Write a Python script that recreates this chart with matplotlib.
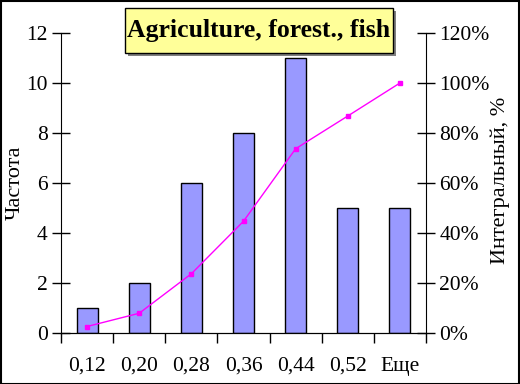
import numpy as np
import matplotlib.pyplot as plt
from matplotlib.patches import Rectangle

# Daten
categories = ["0,12", "0,20", "0,28", "0,36", "0,44", "0,52", "Еще"]
counts = [1, 2, 6, 8, 11, 5, 5]
cum_percent = [2.6, 7.9, 23.7, 44.7, 73.7, 86.8, 100.0]

plt.rcParams['font.family'] = ['Liberation Serif', 'DejaVu Serif']

W, H = 520, 384
fig = plt.figure(figsize=(W / 100, H / 100), dpi=100)
ax = fig.add_axes([61 / W, 51 / H, 365 / W, 300 / H])

x = np.arange(len(categories))
ax.bar(x, counts, width=0.4, color="#9999FF", edgecolor="black", linewidth=1, zorder=2)

ax.set_xlim(-0.5, len(categories) - 0.5)
ax.set_ylim(0, 12)
ax.set_yticks(range(0, 13, 2))
ax.tick_params(axis="y", direction="inout", length=13, width=1, labelsize=15.5, pad=3)

# Striche zwischen den Kategorien, Beschriftung in der Mitte
ax.set_xticks(np.arange(-0.5, len(categories), 1))
ax.set_xticklabels([])
ax.tick_params(axis="x", which="major", direction="out", length=7, width=1)
ax.set_xticks(x, minor=True)
ax.set_xticklabels(categories, minor=True)
ax.tick_params(axis="x", which="minor", length=0, labelsize=15.5, pad=17)

ax.spines["top"].set_visible(False)
ax.spines["right"].set_visible(False)

ax2 = ax.twinx()
ax2.plot(x, cum_percent, color="#FF00FF", linewidth=1, marker="s", markersize=3.5, zorder=3)
ax2.set_ylim(0, 120)
ax2.set_yticks(range(0, 121, 20))
ax2.set_yticklabels([f"{v}%" for v in range(0, 121, 20)])
ax2.tick_params(axis="y", direction="inout", length=13, width=1, labelsize=15.5, pad=3)
ax2.spines["top"].set_visible(False)
ax2.spines["left"].set_visible(False)

# Achsentitel
fig.text(15 / W, 1 - 183 / H, "Частота", fontsize=16, rotation=90, ha="center", va="center")
fig.text(500 / W, 1 - 180 / H, "Интегральный, %", fontsize=16, rotation=90, ha="center", va="center")

# Titel im gelben Kasten mit Schatten
fig.patches.append(Rectangle((128 / W, 1 - 56 / H), 268 / W, 45 / H, transform=fig.transFigure,
                             facecolor="#808080", edgecolor="none"))
fig.patches.append(Rectangle((125 / W, 1 - 53 / H), 268 / W, 45 / H, transform=fig.transFigure,
                             facecolor="#FFFF99", edgecolor="black", linewidth=1))
fig.text(259 / W, 1 - 31 / H, "Agriculture, forest., fish", fontsize=18.5, fontweight="bold",
         ha="center", va="center")

# Rahmen um das ganze Bild
fig.patches.append(Rectangle((0.001, 0.001), 0.997, 0.997, transform=fig.transFigure,
                             fill=False, edgecolor="black", linewidth=1.5))

plt.savefig("out.png", dpi=100)
plt.close()
